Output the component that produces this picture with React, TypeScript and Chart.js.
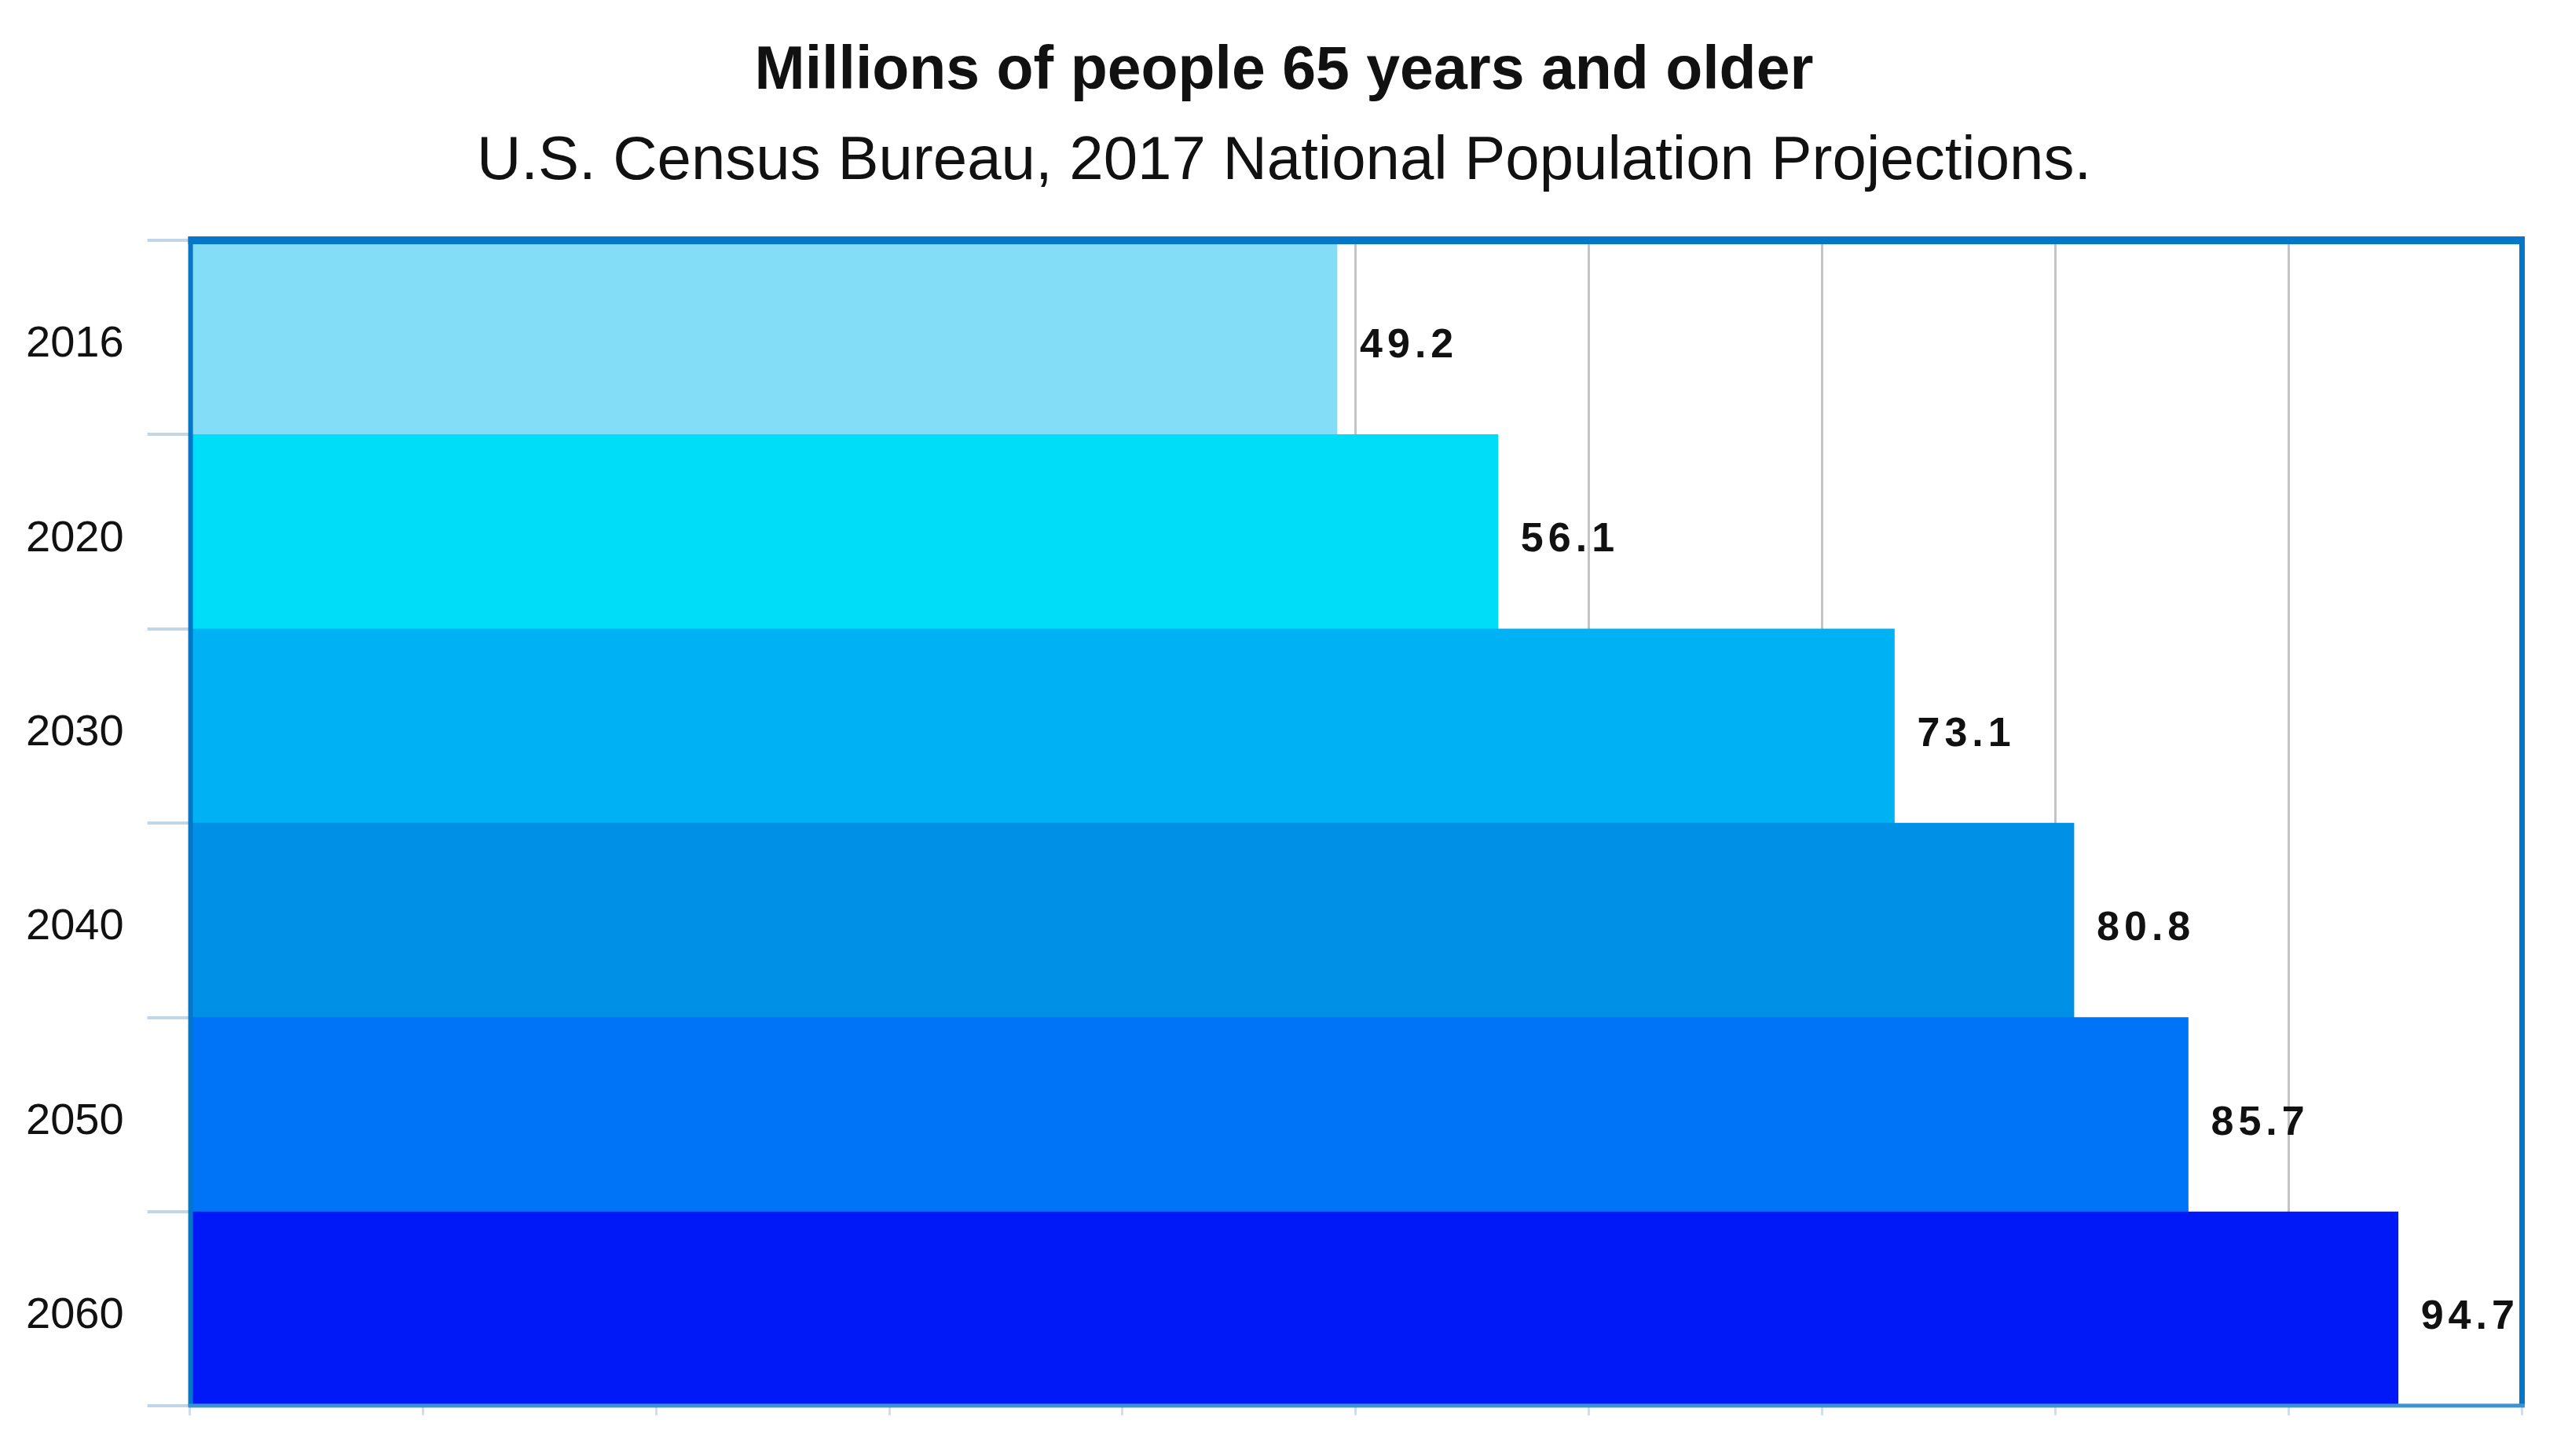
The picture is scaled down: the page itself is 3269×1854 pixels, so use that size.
import React, { useEffect, useRef } from "react";
import { Chart, registerables } from "chart.js";

Chart.register(...registerables);

const years = ["2016", "2020", "2030", "2040", "2050", "2060"];
const millions = [49.2, 56.1, 73.1, 80.8, 85.7, 94.7];
const barColors = ["#84DDF6", "#00DDF9", "#00B1F4", "#0090E6", "#0074F7", "#0019F6"];
const titleText = "Millions of people 65 years and older";
const subtitleText = "U.S. Census Bureau, 2017 National Population Projections.";
const xMin = 0;
const xMax = 100;
const xStep = 10;

const FONT = "'Liberation Sans', Arial, Helvetica, sans-serif";

const headings = {
  id: "headings",
  afterDraw(chart: any) {
    const { ctx, width } = chart;
    ctx.save();
    ctx.fillStyle = "#111111";
    ctx.textAlign = "center";
    ctx.textBaseline = "middle";
    ctx.font = `bold 77px ${FONT}`;
    ctx.fillText(titleText, width / 2, 92);
    ctx.font = `normal 78px ${FONT}`;
    ctx.fillText(subtitleText, width / 2, 206);
    ctx.restore();
  },
};

const frameAndLabels = {
  id: "frameAndLabels",
  afterDatasetsDraw(chart: any) {
    const { ctx, chartArea } = chart;
    const meta = chart.getDatasetMeta(0);
    ctx.save();
    // value labels
    ctx.font = `bold 52px ${FONT}`;
    (ctx as any).letterSpacing = "6px";
    ctx.fillStyle = "#111111";
    ctx.textAlign = "left";
    ctx.textBaseline = "middle";
    meta.data.forEach((bar: any, i: number) => {
      ctx.fillText(millions[i].toFixed(1), bar.x + 29, bar.y + 11);
    });
    (ctx as any).letterSpacing = "0px";
    // frame
    const { left, right, top, bottom } = chartArea;
    ctx.fillStyle = "#0676C9";
    ctx.fillRect(left - 2, top - 5, right - left + 6, 10); // top
    ctx.fillRect(left - 2, top - 5, 6, bottom - top + 5); // left
    ctx.fillRect(right - 3, top - 5, 7, bottom - top + 5); // right
    ctx.fillStyle = "#3A93D2";
    ctx.fillRect(left - 2, bottom - 3, right - left + 6, 5); // bottom
    ctx.restore();
  },
};

export default function App() {
  const ref = useRef<HTMLCanvasElement | null>(null);
  useEffect(() => {
    document.body.style.margin = "0";
    const canvas = ref.current;
    if (!canvas) return;
    const chart = new Chart(canvas, {
      type: "bar",
      data: {
        labels: years,
        datasets: [
          {
            data: millions,
            backgroundColor: barColors,
            borderWidth: 0,
            barPercentage: 1,
            categoryPercentage: 1,
          },
        ],
      },
      options: {
        indexAxis: "y",
        animation: false,
        responsive: true,
        maintainAspectRatio: false,
        devicePixelRatio: 1,
        layout: { padding: { left: 3, right: 59, top: 306, bottom: 32 } },
        plugins: {
          legend: { display: false },
          tooltip: { enabled: false },
          title: { display: false },
          subtitle: { display: false },
        },
        scales: {
          x: {
            type: "linear",
            min: xMin,
            max: xMax,
            ticks: { stepSize: xStep, display: false },
            grid: {
              color: "#C4C4C4",
              lineWidth: 3,
              tickLength: 12,
              tickColor: "#D3DEE8",
              drawTicks: true,
            },
            border: { display: false },
          },
          y: {
            type: "category",
            ticks: {
              color: "#111111",
              font: { family: FONT, size: 56 },
              padding: 30,
              labelOffset: 9,
            },
            grid: {
              offset: true,
              drawOnChartArea: false,
              tickLength: 54,
              tickColor: "#C3D6E6",
              lineWidth: 4,
            },
            border: { display: false },
          },
        },
      },
      plugins: [frameAndLabels, headings],
    });
    return () => chart.destroy();
  }, []);
  return (
    <div style={{ width: "3269px", height: "1854px", position: "relative", background: "#ffffff" }}>
      <canvas ref={ref} />
    </div>
  );
}
